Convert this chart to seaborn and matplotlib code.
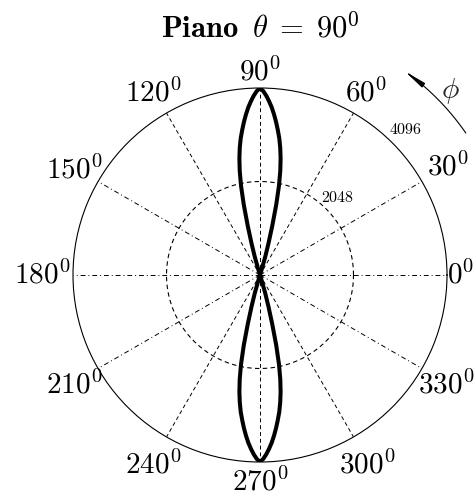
import numpy as np
import pandas as pd
import matplotlib
matplotlib.use("Agg")
import matplotlib.pyplot as plt
import seaborn as sns

# Directivity lobe of the piano (upper lobe, angle in degrees, magnitude)
phi_upper = [72.5, 73, 74, 75, 76, 77, 78, 79, 80, 81, 82, 83, 84, 85, 86, 87, 88, 89, 90,
             91, 92, 93, 94, 95, 96, 97, 98, 99, 100, 101, 102, 103, 104, 105, 106, 107, 107.5]
r_upper = [0, 120, 420, 720, 1110, 1580, 2000, 2330, 2600, 2830, 3030, 3200, 3370, 3530, 3680,
           3810, 3930, 4030, 4096,
           4030, 3930, 3810, 3680, 3530, 3370, 3200, 3030, 2830, 2600, 2330, 2000, 1580, 1110,
           720, 420, 120, 0]
# The lower lobe mirrors the upper one through the origin
phi_lower = [p + 180 for p in phi_upper]
r_lower = list(r_upper)

# Grid definition
spoke_angles = [0, 30, 60, 90, 120, 150]
ring_values = [2048, 4096]
angle_labels = ["0", "30", "60", "90", "120", "150", "180", "210", "240", "270", "300", "330"]

sns.set_theme(style="white")
plt.rcParams["mathtext.fontset"] = "cm"
plt.rcParams["font.family"] = ["DejaVu Serif"]

fig = plt.figure(figsize=(4.76, 4.96), dpi=100)
fig.patch.set_facecolor("white")

W, H = 476, 496
cx, cy, R = 260, 275, 187
ax = fig.add_axes([(cx - R) / W, (H - cy - R) / H, 2 * R / W, 2 * R / H], projection="polar")
rmax = ring_values[-1]
ax.set_ylim(0, rmax)
ax.set_xticks([])
ax.set_yticks([])
ax.grid(False)
ax.set_facecolor("white")
ax.spines["polar"].set_linewidth(0.8)
ax.spines["polar"].set_color("black")

# Inner ring
th = np.linspace(0, 2 * np.pi, 400)
ax.plot(th, np.full_like(th, ring_values[0]), color="black", lw=0.8, ls=(0, (4, 3)))

# Spokes
spoke_styles = {0: (0, (5, 3, 1, 3)), 30: (0, (5, 3, 1, 3)), 150: (0, (5, 3, 1, 3)),
                60: (0, (4, 3)), 90: (0, (4, 3)), 120: (0, (4, 3))}
for a in spoke_angles:
    t = np.deg2rad(a)
    ax.plot([t, t], [0, rmax], color="black", lw=0.7, ls=spoke_styles[a])
    ax.plot([t + np.pi, t + np.pi], [0, rmax], color="black", lw=0.7, ls=spoke_styles[a])

# Lobes
up = pd.DataFrame({"phi": np.deg2rad(phi_upper), "r": r_upper})
lo = pd.DataFrame({"phi": np.deg2rad(phi_lower), "r": r_lower})
sns.lineplot(data=up, x="phi", y="r", ax=ax, color="black", lw=2.9, sort=False, estimator=None)
sns.lineplot(data=lo, x="phi", y="r", ax=ax, color="black", lw=2.9, sort=False, estimator=None)
ax.set_xlabel("")
ax.set_ylabel("")
ax.set_ylim(0, rmax)

# Angle labels (angle, radius factor)
label_pos = {"0": (0, 1.075), "30": (29.9, 1.159), "60": (59.8, 1.126), "90": (90, 1.086),
             "120": (120.4, 1.128), "150": (150.6, 1.142), "180": (180, 1.166),
             "210": (210.6, 1.155), "240": (240.6, 1.166), "270": (270, 1.107),
             "300": (299.4, 1.166), "330": (329.4, 1.155)}
for lab in angle_labels:
    a, f = label_pos[lab]
    ax.text(np.deg2rad(a), f * rmax, rf"${lab}^0$", ha="center", va="center",
            fontsize=21, color="black")

# Ring labels
for v, f in zip(ring_values, [0.586, 1.10]):
    ax.text(np.deg2rad(45), f * rmax, rf"$\mathtt{{{v}}}$", ha="center", va="center",
            fontsize=11.5, color="black")

# Direction arrow for phi
arc_t = np.deg2rad(np.linspace(34.6, 53.5, 60))
ax.plot(arc_t, np.full_like(arc_t, 1.337 * rmax), color="black", lw=0.8, clip_on=False)
ax.annotate("", xy=(np.deg2rad(55.2), 1.337 * rmax), xytext=(np.deg2rad(51.0), 1.337 * rmax),
            xycoords="data", textcoords="data", annotation_clip=False,
            arrowprops=dict(arrowstyle="-|>,head_length=1.1,head_width=0.13", color="black", lw=0.8))
ax.text(np.deg2rad(44), 1.414 * rmax, r"$\phi$", ha="center", va="center", fontsize=21)

fig.text(cx / W, 1 - 29 / H, r"$\mathbf{Piano}\;\;\theta\;=\;90^0$", ha="center", va="center",
         fontsize=22, color="black")

fig.savefig("out.png", dpi=100, facecolor="white")
